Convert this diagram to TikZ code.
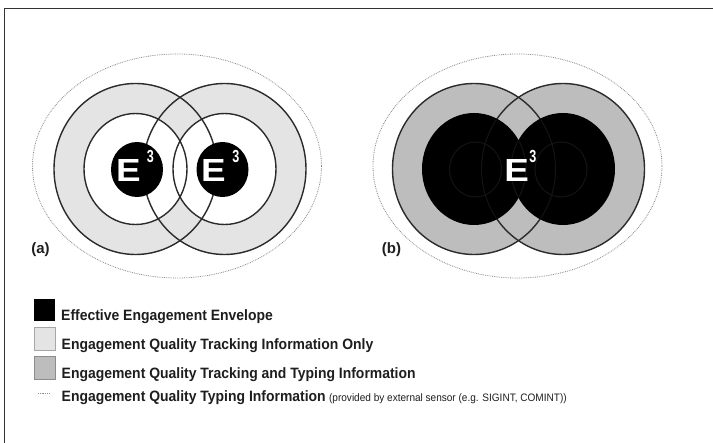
\documentclass[tikz,border=0pt]{standalone}
\usepackage{fontspec}
\setmainfont{Liberation Sans}
\newfontfamily\efont[FakeStretch=1.15]{Liberation Sans}
\newfontfamily\supfont[FakeStretch=0.72]{Liberation Sans}
\newfontfamily\legfont[FakeStretch=0.93]{Liberation Sans}
\definecolor{lightfill}{HTML}{E4E4E4}
\definecolor{midfill}{HTML}{BDBDBD}
\definecolor{outline}{HTML}{2B2B2B}
\definecolor{faintline}{HTML}{141414}
\definecolor{dotcol}{HTML}{8A8A8A}
\definecolor{framecol}{HTML}{333333}
\definecolor{legcol}{HTML}{1E1E1E}
\begin{document}
\begin{tikzpicture}[x=1pt,y=-1pt,
  ring/.style={draw=outline, line width=1.4pt},
  faint/.style={draw=faintline, line width=1pt},
  envelope/.style={draw=dotcol, line width=0.8pt, densely dotted},
  bigE/.style={text=white, font=\efont\bfseries\fontsize{32}{32}\selectfont, inner sep=0pt},
  supthree/.style={text=white, font=\supfont\bfseries\fontsize{17.5}{17.5}\selectfont, inner sep=0pt},
  panellabel/.style={font=\bfseries\fontsize{15}{15}\selectfont, inner sep=0pt, text=legcol},
  legendtext/.style={anchor=base west, font=\legfont\bfseries\fontsize{15}{15}\selectfont, inner sep=0pt, text=legcol},
  smalltext/.style={anchor=base west, font=\legfont\fontsize{10.8}{10.8}\selectfont, inner sep=0pt, text=legcol}
]
\useasboundingbox (0,0) rectangle (713,443);
\fill[white] (0,0) rectangle (713,443);
% frame (top and left edges)
\coordinate (fr1) at (4.7,443);
\coordinate (fr2) at (4.7,8.7);
\coordinate (fr3) at (713,8.7);
\draw[framecol, line width=1.3pt] (fr1) -- (fr2) -- (fr3);

% ---------- panel (a) ----------
\coordinate (aL) at (135.5,169);
\coordinate (aR) at (224.5,169);
\coordinate (aEL) at (137,169.5);
\coordinate (aER) at (222.5,169.5);
\coordinate (aO) at (177,166);
\draw[envelope] (aO) ellipse [x radius=144.5pt, y radius=112pt];
\fill[lightfill] (aL) ellipse [x radius=81.5pt, y radius=85.5pt];
\fill[lightfill] (aR) ellipse [x radius=81.5pt, y radius=85.5pt];
\fill[white] (aL) ellipse [x radius=51.5pt, y radius=55.5pt];
\fill[white] (aR) ellipse [x radius=51.5pt, y radius=55.5pt];
\draw[ring] (aL) ellipse [x radius=81.5pt, y radius=85.5pt];
\draw[ring] (aR) ellipse [x radius=81.5pt, y radius=85.5pt];
\draw[ring] (aL) ellipse [x radius=51.5pt, y radius=55.5pt];
\draw[ring] (aR) ellipse [x radius=51.5pt, y radius=55.5pt];
\fill[black] (aEL) ellipse [x radius=26pt, y radius=27.5pt];
\fill[black] (aER) ellipse [x radius=26pt, y radius=27.5pt];
\node[bigE] (eA1) at (128.3,170) {E};
\node[supthree] (sA1) at (150.5,156.3) {3};
\node[bigE] (eA2) at (213.3,170) {E};
\node[supthree] (sA2) at (236,156.3) {3};
\node[panellabel] (labA) at (40.5,250) {(a)};

% ---------- panel (b) ----------
\coordinate (bL) at (474,169);
\coordinate (bR) at (563,169);
\coordinate (bEL) at (475.5,169.5);
\coordinate (bER) at (561,169.5);
\coordinate (bO) at (517.5,166);
\draw[envelope] (bO) ellipse [x radius=144.5pt, y radius=112pt];
\fill[midfill] (bL) ellipse [x radius=81.5pt, y radius=85.5pt];
\fill[midfill] (bR) ellipse [x radius=81.5pt, y radius=85.5pt];
\draw[ring] (bL) ellipse [x radius=81.5pt, y radius=85.5pt];
\draw[ring] (bR) ellipse [x radius=81.5pt, y radius=85.5pt];
\fill[black] (bL) ellipse [x radius=52pt, y radius=56pt];
\fill[black] (bR) ellipse [x radius=52pt, y radius=56pt];
\begin{scope}
  \clip (bL) ellipse [x radius=51pt, y radius=55pt] (bR) ellipse [x radius=51pt, y radius=55pt];
  \draw[faint] (bL) ellipse [x radius=81.5pt, y radius=85.5pt];
  \draw[faint] (bR) ellipse [x radius=81.5pt, y radius=85.5pt];
  \draw[faint] (bL) ellipse [x radius=52pt, y radius=56pt];
  \draw[faint] (bR) ellipse [x radius=52pt, y radius=56pt];
  \draw[faint] (bEL) ellipse [x radius=26pt, y radius=27.5pt];
  \draw[faint] (bER) ellipse [x radius=26pt, y radius=27.5pt];
\end{scope}
\node[bigE] (eB) at (516.7,170.5) {E};
\node[supthree] (sB) at (532.8,156.7) {3};
\node[panellabel] (labB) at (391.5,250) {(b)};

% ---------- legend ----------
\coordinate (k1a) at (34,299);  \coordinate (k1b) at (55,321);
\coordinate (k2a) at (34.5,327.5); \coordinate (k2b) at (55.5,350.5);
\coordinate (k3a) at (34.5,356.5); \coordinate (k3b) at (55.5,379);
\coordinate (k4a) at (38,393.5); \coordinate (k4b) at (50,393.5);
\fill[black] (k1a) rectangle (k1b);
\filldraw[fill=lightfill, draw=black!35, line width=0.8pt] (k2a) rectangle (k2b);
\filldraw[fill=midfill, draw=black!45, line width=0.8pt] (k3a) rectangle (k3b);
\draw[envelope] (k4a) -- (k4b);
\node[legendtext] (t1) at (61,320.5) {Effective Engagement Envelope};
\node[legendtext] (t2) at (61.5,350) {Engagement Quality Tracking Information Only};
\node[legendtext] (t3) at (61.5,378.5) {Engagement Quality Tracking and Typing Information};
\node[legendtext] (t4) at (61.5,402) {Engagement Quality Typing Information};
\node[smalltext, anchor=base west] (t5) at ([xshift=3pt]t4.base east) {(provided by external sensor (e.g. SIGINT, COMINT))};
\end{tikzpicture}
\end{document}
